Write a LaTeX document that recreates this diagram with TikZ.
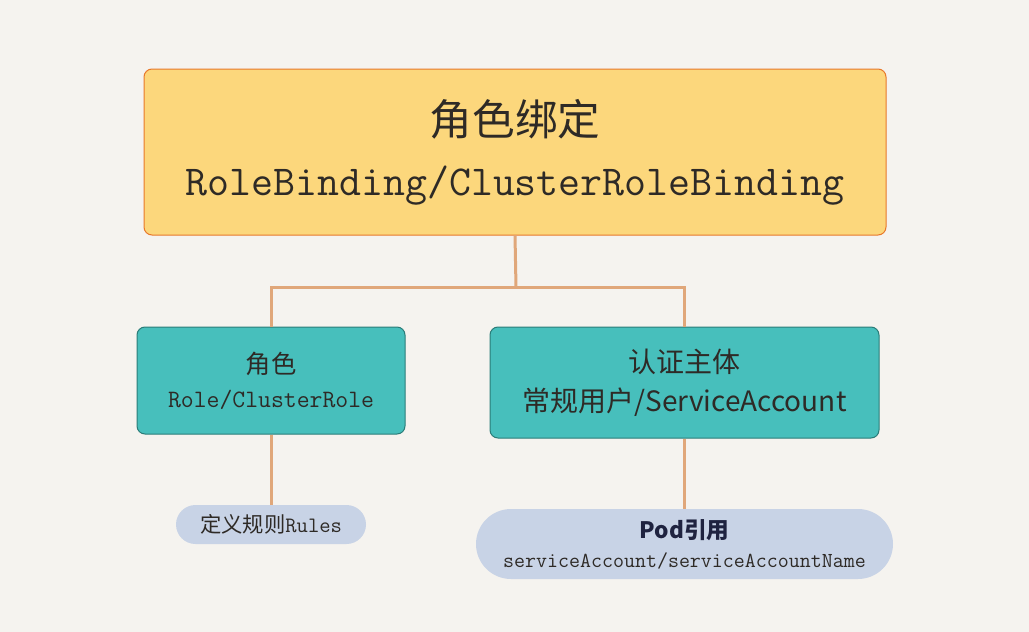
\documentclass[tikz,border=0pt]{standalone}
\usepackage{fontspec}
\newfontfamily\cjk{Noto Sans CJK SC}
\usetikzlibrary{shapes.misc}

\definecolor{bgcol}{HTML}{F5F3EF}
\definecolor{goldfill}{HTML}{FCD77C}
\definecolor{goldline}{HTML}{E8782A}
\definecolor{tealfill}{HTML}{47BFBC}
\definecolor{tealline}{HTML}{2A7C78}
\definecolor{pillfill}{HTML}{C8D3E6}
\definecolor{linkcol}{HTML}{E0A77A}
\definecolor{darktext}{HTML}{2E2A26}
\definecolor{navytext}{HTML}{1F2340}

\begin{document}
\begin{tikzpicture}[x=0.75pt, y=-0.75pt,
    % Define the styles for boxes and links
    bindbox/.style={draw=goldline, fill=goldfill, line width=0.75pt, rounded corners=6pt,
        minimum width=556.5pt, minimum height=124.5pt, inner sep=0pt, align=center, text=darktext},
    rolebox/.style={draw=tealline, fill=tealfill, line width=0.75pt, rounded corners=6pt,
        inner sep=0pt, align=center, text=darktext},
    pill/.style={rounded rectangle, fill=pillfill, inner sep=0pt, align=center, text=darktext},
    link/.style={draw=linkcol, line width=2.25pt}
]

% Background
\fill[bgcol] (0,0) rectangle (1029,632);

% Define the junction point
\coordinate (split) at (516,287);

% Draw the boxes
\node[bindbox] (binding) at (515,152)
    {{\cjk\fontsize{32}{32}\selectfont 角色绑定}\\[19pt]
     {\ttfamily\fontsize{32}{32}\selectfont RoleBinding/ClusterRoleBinding}};
\node[rolebox, minimum width=201pt, minimum height=80.25pt] (role) at (271,380.5)
    {{\cjk\fontsize{19}{19}\selectfont 角色}\\[10pt]
     {\ttfamily\fontsize{18.75}{18.75}\selectfont Role/ClusterRole}};
\node[rolebox, minimum width=291.75pt, minimum height=83.25pt] (subject) at (684.5,382.5)
    {\cjk\fontsize{21}{21}\selectfont 认证主体\\[8.5pt]
     \cjk\fontsize{21}{21}\selectfont 常规用户/ServiceAccount};

% Draw the pills
\node[pill, minimum width=142.5pt, minimum height=29.25pt] (rules) at (271,524.5)
    {{\cjk\fontsize{16}{16}\selectfont 定义规则}{\ttfamily\fontsize{16.5}{16.5}\selectfont Rules}};
\node[pill, minimum width=312.75pt, minimum height=52.5pt] (podref) at (684.5,544)
    {{\cjk\bfseries\color{navytext}\fontsize{17}{17}\selectfont Pod引用}\\[8pt]
     {\ttfamily\fontsize{16}{16}\selectfont serviceAccount/serviceAccountName}};

% Draw the links
\draw[link] (binding.south) -- (split);
\draw[link] (role.north) |- (split);
\draw[link] (subject.north) |- (split);
\draw[link] (role.south) -- (rules.north);
\draw[link] (subject.south) -- (podref.north);

\end{tikzpicture}
\end{document}
